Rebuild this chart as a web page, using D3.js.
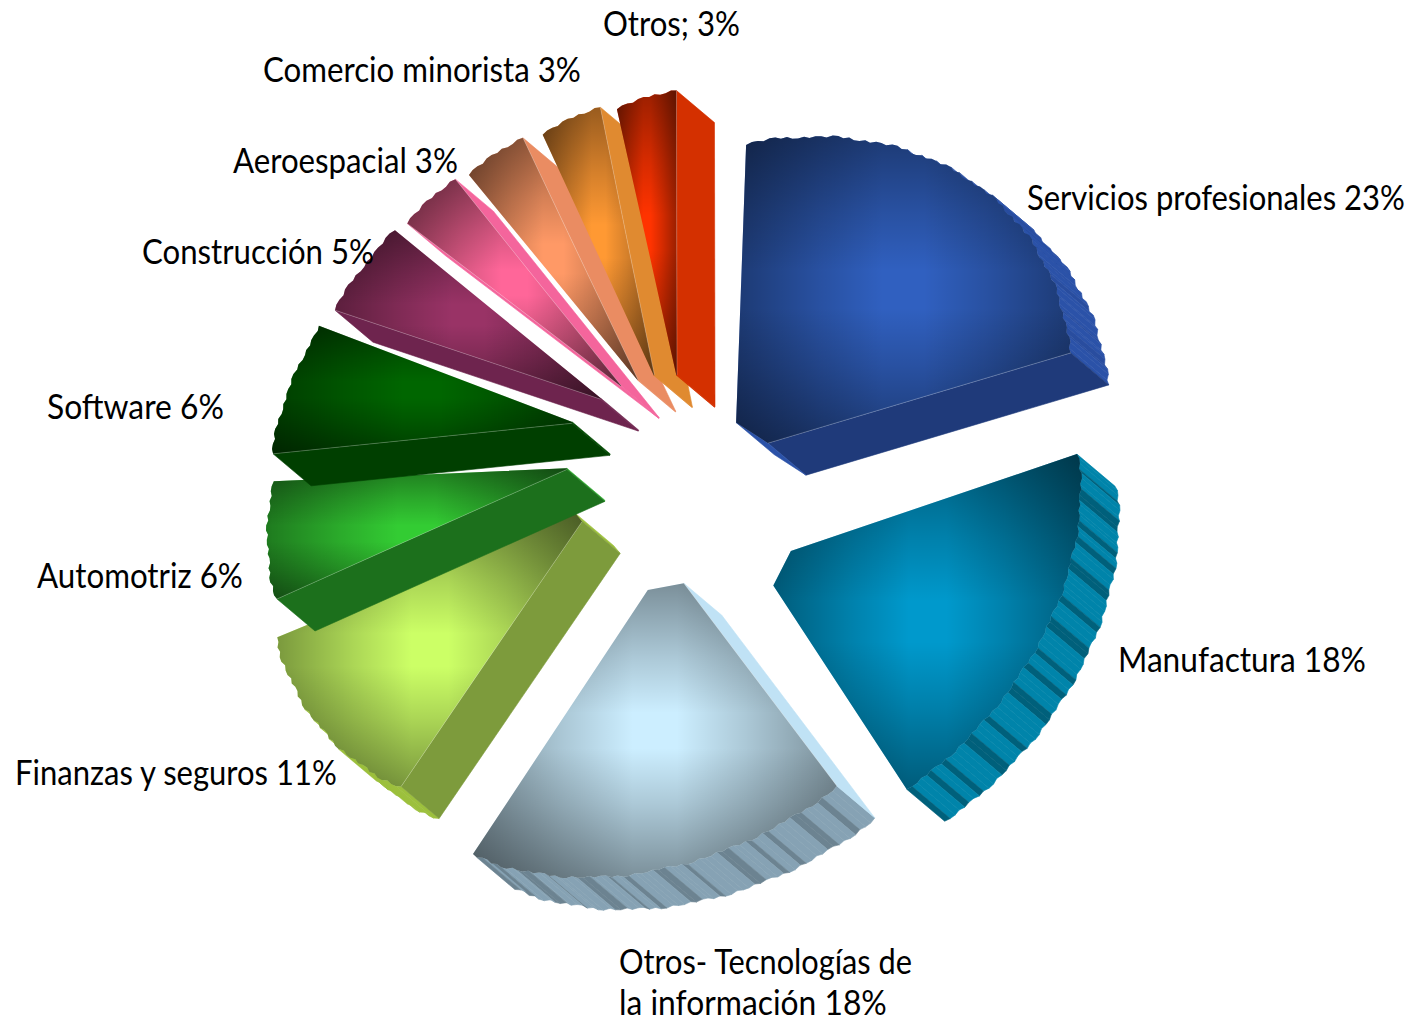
<!DOCTYPE html>
<html>
<head>
<meta charset="utf-8">
<script src="https://cdn.jsdelivr.net/npm/d3@7"></script>
<style>
  html, body { margin: 0; background: #fff; }
  text { font-family: Lato, "Noto Sans", sans-serif; font-size: 34px; fill: #000; }
</style>
</head>
<body>
<svg id="chart" width="1416" height="1018"></svg>
<script>
// order is clockwise from the top, the salmon slice has no label in the source
const categories = ['Servicios profesionales 23%', 'Manufactura 18%', 'Otros- Tecnologías de|la información 18%',
                    'Finanzas y seguros 11%', 'Automotriz 6%', 'Software 6%', 'Construcción 5%',
                    'Aeroespacial 3%', '', 'Comercio minorista 3%', 'Otros; 3%']
const values     = [23, 18, 18, 11, 6, 6, 5, 3, 3, 3, 3]

const topColors  = ['#3060c0', '#0099cc', '#cceeff', '#ccff66', '#33cc33', '#006600',
                    '#993366', '#ff6699', '#ff9966', '#ff9933', '#ff3300']
const wallColors = ['#1f3a7a', '#0082a8', '#c0e2f5', '#7d9b3c', '#1c701c', '#003f00',
                    '#6e244e', '#f4659c', '#ea8c62', '#e08a30', '#d43000']
const rimColors  = ['#2b52a8', '#0084aa', '#86a2b4', '#9cc03c', '#25a825', '#004a00',
                    '#6e244e', '#f4659c', '#ea8c62', '#e08a30', '#d43000']
const ribDepth   = [0.08, 0.45, 0.3, 0, 0, 0, 0, 0, 0, 0, 0]

// layout: explosion of each slice from the pie centre, its radius and its hole
const centre  = [680, 490]
const explode = [[55, -37], [78, 72], [-13, 71], [-88, 17], [-110, -22], [-105, -67],
                 [-77, -90], [-57, -102], [-41, -108], [-25, -112], [-3, -112]]
const radius  = [1.01, 0.97, 1.01, 0.97, 0.91, 0.92, 0.95, 0.96, 0.96, 0.95, 0.95]
const hole    = [0.1, 0.1, 0.1, 0.05, 0.01, 0.01, 0.01, 0.01, 0.01, 0.01, 0.01]
// perspective bends the slice edges a little, degrees at start and end
const bend    = [[0, 0], [-2.5, 1.5], [-1.5, -1], [0, 2], [0, 3], [-0.5, 3.5],
                 [1.5, 0.5], [-1, -1], [-1.5, -1.5], [-1, -1], [-2, -2]]

// the pie is tilted, so unit circle coordinates go through this matrix
const tilt  = { a: 331, b: -65, c: -11, d: 305 }
const depth = [38, 32]

const labelX     = [1027, 1118, 619, 15, 37, 47, 142, 233, 0, 263, 603]
const labelY     = [210, 672, 974, 785, 588, 419, 264, 173, 0, 82, 36]
const labelWidth = [[378], [248], [293, 268], [322], [206], [177], [232], [225], [0], [318], [137]]

const jag  = [0, 0.006, 0.006, 0.002, 0.009, 0.009, 0.003, 0.007, 0, 0, 0.005]
const ribs = [0, 0, 0, 1, 0, 0, 0, 1, 1, 0, 0, 0, 0, 1, 0, 0, 1, 0, 0, 0, 1, 1, 0, 0]

const svg  = d3.select('#chart'),
      defs = svg.append('defs')

function pillow(id, x2, y2) {
  let γ = defs.append('linearGradient').attr('id', id)
              .attr('x1', 0).attr('y1', 0).attr('x2', x2).attr('y2', y2)
  ;[[0, 0.4], [0.25, 0.16], [0.44, 0], [0.56, 0], [0.75, 0.16], [1, 0.4]].forEach(σ => {
    γ.append('stop').attr('offset', σ[0]).attr('stop-color', '#000').attr('stop-opacity', σ[1])
  })
}

pillow('shadeH', 1, 0)
pillow('shadeV', 0, 1)

const pie = d3.pie().sort(null)(values)

function project(θ, r, offset) {
  let x = r * Math.sin(θ),
      y = -r * Math.cos(θ)
  return [tilt.a * x + tilt.c * y + offset[0],
          tilt.b * x + tilt.d * y + offset[1]]
}

// outline of a top face, clockwise on screen, tagged with the kind of wall below each edge
function outline(arc, ι) {
  let offset = [centre[0] + explode[ι][0], centre[1] + explode[ι][1]],
      start  = arc.startAngle + bend[ι][0] * Math.PI / 180,
      end    = arc.endAngle + bend[ι][1] * Math.PI / 180,
      steps  = Math.max(4, Math.round((end - start) / (Math.PI / 180))),
      pts    = []

  d3.range(steps + 1).forEach(κ => {
    let θ = start + (end - start) * κ / steps,
        r = radius[ι] * (1 + jag[κ % jag.length])
    pts.push({ p: project(θ, r, offset), kind: κ === steps ? 'side' : 'rim', rib: ribs[κ % ribs.length] })
  })
  pts.push({ p: project(end, hole[ι], offset), kind: 'inner', rib: 0 })
  pts.push({ p: project(start, hole[ι], offset), kind: 'side', rib: 0 })
  return pts
}

const line = d3.line()

pie.forEach((arc, ι) => {
  let pts = outline(arc, ι),
      g   = svg.append('g').attr('class', 'slice'),
      seams = []

  pts.forEach((π, κ) => {
    let next = pts[(κ + 1) % pts.length].p,
        dx   = next[0] - π.p[0],
        dy   = next[1] - π.p[1]

    // only faces turned to the viewer
    if (dy * depth[0] - dx * depth[1] <= 0) return

    let colour = π.kind === 'side' ? wallColors[ι] : rimColors[ι]
    if (π.rib) colour = d3.color(colour).darker(ribDepth[ι] * 2).formatHex()
    if (π.kind === 'side') seams.push([π.p, next])

    g.append('path')
     .attr('d', line([π.p, next, [next[0] + depth[0], next[1] + depth[1]],
                      [π.p[0] + depth[0], π.p[1] + depth[1]]]) + 'Z')
     .attr('fill', colour)
     .attr('stroke', colour)
     .attr('stroke-width', 0.6)
  })

  let face = line(pts.map(π => π.p)) + 'Z'
  g.append('path').attr('d', face).attr('fill', topColors[ι])
  g.append('path').attr('d', face).attr('fill', 'url(#shadeH)')
  g.append('path').attr('d', face).attr('fill', 'url(#shadeV)')

  // thin light seam where the face meets a side wall
  seams.forEach(σ => {
    g.append('path').attr('d', line(σ)).attr('fill', 'none')
     .attr('stroke', '#fff').attr('stroke-opacity', 0.3).attr('stroke-width', 0.8)
  })
})

categories.forEach((name, ι) => {
  if (!name) return
  name.split('|').forEach((part, κ) => {
    let τ = svg.append('text').text(part),
        w = τ.node().getComputedTextLength(),
        s = labelWidth[ι][κ] / w
    τ.attr('transform', `translate(${labelX[ι]},${labelY[ι] + κ * 41}) scale(${s},1)`)
  })
})
</script>
</body>
</html>
